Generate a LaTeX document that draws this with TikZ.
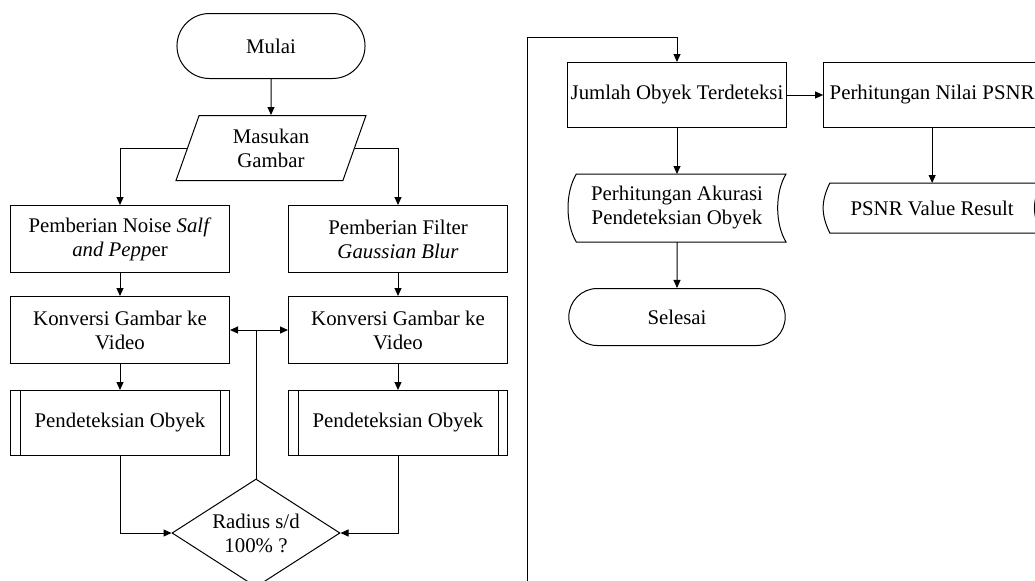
\documentclass[tikz,border=0pt]{standalone}
\usepackage{fontspec}
\setmainfont{Liberation Serif}
\usetikzlibrary{arrows.meta,positioning,shapes.geometric,shapes.misc}

\begin{document}
\begin{tikzpicture}[>={Triangle[length=4.8pt,width=4.2pt]}, line width=0.6pt,
  every node/.style={font=\fontsize{12.5}{14.4}\selectfont, align=center},
  term/.style={draw, rounded rectangle, minimum width=119.5pt, minimum height=39pt},
  io/.style={draw, trapezium, trapezium left angle=63, trapezium right angle=117,
    trapezium stretches body, minimum width=114pt, minimum height=39pt, inner sep=2pt},
  box/.style={draw, minimum width=131.4pt, minimum height=40.2pt, inner sep=2pt},
  sub/.style={box, minimum height=39pt, append after command={\pgfextra{\draw
    ([xshift=6pt]\tikzlastnode.north west) -- ([xshift=6pt]\tikzlastnode.south west)
    ([xshift=-6pt]\tikzlastnode.north east) -- ([xshift=-6pt]\tikzlastnode.south east);}}},
  cek/.style={draw, diamond, aspect=1.556, minimum width=100.8pt, minimum height=64.8pt, inner sep=0pt},
  store/.style={minimum width=130.2pt, minimum height=40.2pt, inner sep=2pt,
    append after command={\pgfextra{\draw
    ([xshift=#1]\tikzlastnode.north west) -- (\tikzlastnode.north east)
    .. controls +({-4/3*#1},-11pt) and +({-4/3*#1},11pt) .. (\tikzlastnode.south east)
    -- ([xshift=#1]\tikzlastnode.south west)
    .. controls +({-4/3*#1},11pt) and +({-4/3*#1},-11pt) .. ([xshift=#1]\tikzlastnode.north west) -- cycle;}}},
  store/.default=5pt]
  \useasboundingbox (0,0) rectangle (621pt,-348pt);
  \clip (0,0) rectangle (621pt,-348pt);

  % left part
  \node[term] (mulai) at (162.6pt,-27.6pt) {Mulai};
  \node[io, below=21.6pt of mulai] (masuk) {Masukan\\Gambar};
  \node[box, below=14.4pt of masuk, xshift=-90.6pt] (noise) {Pemberian Noise \textit{Salf}\\\textit{and Pepp}er};
  \node[box, below=14.4pt of masuk, xshift=76.2pt] (filter) {Pemberian Filter\\\textit{Gaussian Blur}};
  \node[box, below=13.8pt of noise] (konv1) {Konversi Gambar ke\\Video};
  \node[box, below=13.8pt of filter] (konv2) {Konversi Gambar ke\\Video};
  \node[sub, below=15.6pt of konv1] (deteksi1) {Pendeteksian Obyek};
  \node[sub, below=15.6pt of konv2] (deteksi2) {Pendeteksian Obyek};
  \node[cek] (radius) at (153.6pt,-319.8pt) {Radius s/d\\100\% ?};

  % right part
  \node[box, minimum width=130.2pt, minimum height=39pt] (jumlah) at (406.2pt,-57pt) {Jumlah Obyek Terdeteksi};
  \node[box, minimum width=130.2pt, minimum height=39pt, right=21.6pt of jumlah] (psnr) {Perhitungan Nilai PSNR};
  \node[store, below=27.6pt of jumlah] (akurasi) {Perhitungan Akurasi\\Pendeteksian Obyek};
  \node[store=4pt, minimum height=29.4pt, below=33pt of psnr] (hasil) {PSNR Value Result};
  \node[term, minimum width=136.5pt, minimum height=34.2pt, below=27.6pt of akurasi] (selesai) {Selesai};

  \draw[->] (mulai) -- (masuk);
  \draw[->] (masuk.west) -| (noise.north);
  \draw[->] (masuk.east) -| (filter.north);
  \draw[->] (noise) -- (konv1);
  \draw[->] (filter) -- (konv2);
  \draw[->] (konv1) -- (deteksi1);
  \draw[->] (konv2) -- (deteksi2);
  \draw[->] (deteksi1.south) |- (radius.west);
  \draw[->] (deteksi2.south) |- (radius.east);
  \coordinate (cabang) at (radius.north |- konv1.east);
  \draw (radius.north) -- (cabang);
  \draw[->] (cabang) -- (konv1.east);
  \draw[->] (cabang) -- (konv2.west);
  \coordinate (balik) at (316.2pt,-22.2pt);
  \draw[->] (radius.south) -- ++(0,-12pt) -| (balik) -| (jumlah.north);
  \draw[->] (jumlah) -- (psnr);
  \draw[->] (jumlah) -- (akurasi);
  \draw[->] (akurasi) -- (selesai);
  \draw[->] (psnr) -- (hasil);
\end{tikzpicture}
\end{document}
